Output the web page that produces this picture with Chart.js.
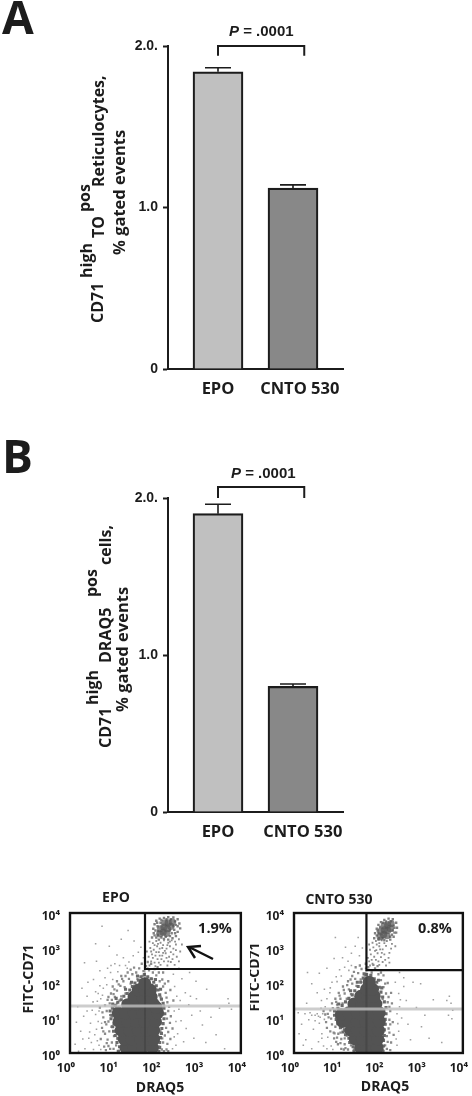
<!DOCTYPE html>
<html>
<head>
<meta charset="utf-8">
<title>CD71 reticulocytes, EPO vs CNTO 530</title>
<script src="https://cdn.jsdelivr.net/npm/chart.js@4/dist/chart.umd.min.js"></script>
<style>
  html, body { margin: 0; padding: 0; background: #fff; overflow: hidden; }
  #page { position: relative; width: 472px; height: 1096px; }
  canvas { position: absolute; filter: blur(0.4px); }
</style>
</head>
<body>
<div id="page">
  <canvas id="panelA" style="left:0;top:0"></canvas>
  <canvas id="panelB" style="left:0;top:430px"></canvas>
  <canvas id="flowEpo" style="left:0;top:880px"></canvas>
  <canvas id="flowCnto" style="left:250px;top:880px"></canvas>
</div>
<script>
// Bar data
const categories = ['EPO', 'CNTO 530'];
const barColors = ['#c0c0c0', '#888888'];
const barTickLabels = ['0', '1.0', '2.0.'];
const barTickValues = [0, 1, 2];
const valuesA = [1.84, 1.12];
const errorsA = [1.865, 1.14];
const valuesB = [1.90, 0.80];
const errorsB = [1.96, 0.815];

// Flow plots, points are log10 (DRAQ5, FITC-CD71)
const logTickValues = [1, 10, 100, 1000, 10000];
const logTickLabels = ['10⁰', '10¹', '10²', '10³', '10⁴'];

const epoCore = [
  [1.31,.15],[1.5,.15],[1.7,.15],[1.93,.15],
  [1.27,.4],[1.45,.4],[1.65,.4],[1.85,.4],[1.96,.4],
  [1.2,.65],[1.4,.65],[1.6,.65],[1.8,.65],[1.96,.65],
  [1.15,.9],[1.35,.9],[1.55,.9],[1.75,.9],[2.0,.9],
  [1.13,1.15],[1.3,1.15],[1.5,1.15],[1.7,1.15],[1.9,1.15],[2.05,1.15],
  [1.35,1.38],[1.55,1.4],[1.75,1.4],[1.95,1.4],[2.02,1.3],
  [1.5,1.6],[1.7,1.6],[1.9,1.6],
  [1.6,1.8],[1.75,1.8],[1.88,1.8],
  [1.75,1.98]
];
const epoInner = [
  [1.13,.05],[1.16,.18],[1.1,.3],[1.12,.42],[1.06,.5],[1.08,.62],[1.0,.75],[1.03,.84],[.96,.98],[.98,1.08],
  [.94,1.2],[1.0,1.28],[1.06,1.36],[1.12,1.45],[1.2,1.52],[1.26,1.62],[1.34,1.7],[1.4,1.8],[1.46,1.9],[1.52,2.0],
  [1.6,2.08],[1.66,2.18],[1.74,2.24],[1.82,2.18],[1.9,2.12],[1.96,2.02],[2.02,1.92],[2.06,1.8],[2.1,1.66],[2.14,1.54],
  [2.18,1.42],[2.2,1.28],[2.22,1.12],[2.2,.98],[2.18,.84],[2.15,.7],[2.14,.56],[2.12,.44],[2.1,.3],[2.1,.16],
  [2.08,.05],[1.24,.06],[1.02,.62],[1.0,1.4],[1.08,1.56],[1.3,1.82],[1.44,2.02],[1.58,2.2],[2.0,2.1],[2.12,1.82]
];
const epoHalo = [
  [.82,.55],[.9,.9],[.86,1.2],[.93,1.42],[.98,.3],[1.02,.12],[1.05,1.6],[1.1,1.78],[1.18,1.92],[1.25,2.05],
  [1.3,1.7],[1.38,2.12],[1.46,2.25],[1.55,2.3],[1.62,2.42],[1.7,2.2],[1.78,2.48],[1.85,2.36],[1.94,2.3],[2.02,2.22],
  [2.1,2.05],[2.18,1.9],[2.24,1.72],[2.28,1.45],[2.3,1.2],[2.27,.98],[2.25,.72],[2.22,.5],[2.18,.3],[2.15,.1],
  [2.2,.05],[.97,.75],[1.0,1.05],[1.03,.48],[.94,1.08],[1.08,.22],[1.12,.4],[1.15,.06],[1.2,1.62],[1.28,1.88],
  [1.42,1.98],[2.12,1.6],[2.2,1.35],[2.12,.62],[2.14,.85],[2.08,.18],[1.72,2.34],[1.58,2.12],[1.92,2.12],[.78,1.02],
  [.75,.72],[.88,.38],[.7,1.3],[.72,.4],[.8,.18],[.9,1.6],[1.0,1.9],[1.1,2.05],[1.2,2.2],[1.35,2.3],
  [2.36,1.05],[2.4,.7],[2.35,.4],[2.42,1.5],[2.35,1.8],[2.3,2.05],[2.18,2.3],[2.05,2.45],[1.9,2.55],[1.68,2.55],
  [1.05,.85],[.98,1.3],[1.04,1.35],[.92,.62],[.85,.82],[1.07,.65],[1.1,1.42],[1.16,1.5],[2.18,1.1],[2.16,.42],
  [.84,.08],[.9,.2],[.78,.62],[.82,.88],[.76,1.16],[.82,1.36],[.88,1.52],[.96,1.7],[1.04,1.82],[1.14,1.96],
  [1.22,2.12],[1.3,2.2],[1.42,2.38],[1.5,2.44],[2.26,1.58],[2.32,1.32],[2.34,.86],[2.3,.6],[2.28,.26],[2.26,.1],
  [2.16,2.1],[2.08,2.3],[1.98,2.4],[1.82,2.6],[2.22,1.98],[2.3,.05],[.94,.12],[.86,.28],[.98,1.52],[1.02,1.68]
];
const epoSparse = [
  [.12,.25],[.18,1.32],[.25,.62],[.32,1.05],[.35,.12],[.4,1.62],[.44,.42],[.48,.85],[.52,1.22],[.55,.1],
  [.6,1.75],[.62,.68],[.64,1.48],[.68,.22],[.7,1.92],[.55,2.1],[.42,2.02],[.28,1.85],[.76,1.65],[.82,2.15],
  [.95,2.3],[.88,2.42],[1.05,2.55],[1.12,2.32],[.7,2.35],[.62,2.62],[.34,2.58],[.6,3.12],[.92,3.05],[1.1,2.8],
  [1.25,2.72],[1.38,2.6],[1.48,2.78],[1.6,2.88],[1.72,2.72],[1.66,3.02],[1.5,3.2],[1.36,3.5],[.75,3.62],[1.2,3.25],
  [2.45,1.9],[2.5,1.62],[2.55,1.25],[2.6,.92],[2.52,.55],[2.48,.22],[2.62,2.12],[2.7,1.72],[2.78,1.38],[2.85,1.08],
  [2.72,.7],[2.9,.42],[2.96,1.55],[3.05,1.2],[3.1,.8],[3.18,.3],[2.42,2.25],[2.55,2.42],[3.2,1.82],[3.3,1.02],
  [3.42,.52],[3.5,1.28],[3.72,1.42],[3.78,1.25],[3.7,1.55],[3.62,.12],[2.95,2.05],[2.8,2.3],
  [.2,.05],[.5,.3],[.58,.52],[.66,.9],[.6,1.1],[.68,1.2],[.72,1.55],[.66,1.7],[.78,1.85],[.86,1.95],
  [1.0,2.1],[.96,2.5],[1.16,2.5],[1.3,2.5],[1.34,2.42],[2.44,1.2],[2.48,.9],[2.44,.46],[2.58,1.5],[2.4,.12],
  [.4,1.2],[.3,.4],[.15,.88],[2.66,.32],[2.82,1.62],[.72,.1],[.64,.35],[.74,.85],[.54,1.46],[.46,.6]
];
const epoTail = [
  [1.82,2.42],[1.9,2.62],[1.98,2.58],[2.05,2.68],[2.12,2.52],[2.2,2.62],[2.28,2.5],[2.36,2.6],[2.45,2.52],[2.55,2.62],
  [1.84,2.75],[1.92,2.82],[2.0,2.78],[2.08,2.88],[2.16,2.78],[2.24,2.85],[2.32,2.75],[2.42,2.82],[2.5,2.75],[2.58,2.9],
  [1.88,3.0],[1.96,2.95],[2.04,3.05],[2.1,2.98],[2.18,3.08],[2.26,2.98],[2.34,3.05],[2.42,2.98],[2.48,3.1],[1.86,3.18],
  [1.94,3.14],[2.02,3.2],[2.12,3.15],[2.2,3.22],[2.3,3.15],[2.38,3.22],[2.46,3.18],[2.55,3.25],[2.62,3.1],[1.8,2.9],
  [1.86,2.5],[1.94,2.72],[2.02,2.88],[2.06,3.12],[2.14,2.68],[2.22,2.92],[2.28,3.08],[2.36,2.88],[2.4,2.68],[2.16,3.0],
  [1.9,2.9],[1.98,3.08],[2.26,2.72],[2.1,2.78],[2.3,2.62],[2.48,2.94],[2.0,2.48],[2.08,2.58],[2.34,3.18],[2.18,2.86]
];
const epoCluster = [
  [2.1,3.4],[2.18,3.45],[2.26,3.42],[2.12,3.55],[2.2,3.6],[2.28,3.55],[2.36,3.62],[2.22,3.72],[2.3,3.72],[2.4,3.74]
];
const epoClusterHalo = [
  [1.92,3.3],[1.96,3.42],[1.95,3.55],[1.98,3.68],[2.02,3.78],[2.1,3.84],[2.2,3.86],[2.3,3.88],[2.42,3.87],[2.52,3.82],
  [2.56,3.7],[2.58,3.56],[2.52,3.46],[2.48,3.34],[2.4,3.28],[2.3,3.24],[2.2,3.26],[2.08,3.24],[2.02,3.3],[2.44,3.52],
  [2.05,3.62],[2.06,3.48],[2.12,3.72],[2.38,3.42],[2.48,3.66],[1.98,3.36],[2.0,3.5],[2.04,3.72],[2.14,3.8],[2.26,3.82],
  [2.36,3.82],[2.46,3.76],[2.52,3.62],[2.46,3.42],[2.34,3.34],[2.24,3.32],[2.14,3.3],[2.06,3.38],[2.42,3.62],[2.34,3.5]
];

const cntoCore = [
  [1.58,.15],[1.72,.15],[1.9,.15],[1.97,.15],
  [1.45,.4],[1.62,.4],[1.8,.4],[1.98,.4],
  [1.35,.65],[1.5,.65],[1.7,.65],[1.88,.65],[2.0,.65],
  [1.15,.9],[1.3,.9],[1.5,.9],[1.7,.9],[1.9,.9],[2.02,.9],
  [1.12,1.1],[1.3,1.15],[1.5,1.15],[1.7,1.15],[1.9,1.15],[2.02,1.15],
  [1.42,1.4],[1.6,1.4],[1.78,1.4],[1.94,1.4],
  [1.58,1.62],[1.74,1.62],[1.9,1.62],
  [1.72,1.82],[1.86,1.82],
  [1.78,2.02]
];
const cntoInner = [
  [1.42,.05],[1.4,.18],[1.32,.3],[1.3,.42],[1.22,.52],[1.2,.64],[1.1,.72],[1.04,.84],[1.0,.96],[.96,1.08],
  [.96,1.2],[1.04,1.28],[1.14,1.36],[1.22,1.46],[1.3,1.56],[1.38,1.66],[1.44,1.78],[1.52,1.9],[1.58,2.02],[1.64,2.14],
  [1.72,2.24],[1.82,2.22],[1.9,2.12],[1.96,2.02],[2.02,1.88],[2.06,1.74],[2.1,1.6],[2.14,1.46],[2.18,1.3],[2.18,1.12],
  [2.16,.96],[2.16,.82],[2.14,.66],[2.14,.5],[2.12,.36],[2.12,.2],[2.1,.06],[1.5,.05],[1.16,.6],[1.06,1.4],
  [1.34,1.78],[1.5,2.02],[1.66,2.26],[2.0,2.08],[2.08,1.86]
];
const cntoHalo = [
  [.8,1.12],[.88,.98],[.92,1.28],[.98,.75],[1.05,.55],[1.12,.4],[1.2,.25],[1.28,.1],[1.02,1.38],[1.1,1.55],
  [1.2,1.7],[1.3,1.82],[1.38,1.98],[1.45,2.12],[1.52,2.28],[1.6,2.4],[1.68,2.22],[1.76,2.45],[1.84,2.3],[1.92,2.42],
  [2.0,2.25],[2.06,2.08],[2.12,1.88],[2.18,1.7],[2.22,1.45],[2.28,1.2],[2.26,.95],[2.24,.7],[2.2,.48],[2.16,.22],
  [2.12,.05],[1.35,.22],[1.25,.5],[1.18,.68],[1.08,.85],[1.0,1.0],[1.15,1.42],[1.25,1.55],[1.35,1.68],[1.48,1.92],
  [1.58,2.1],[2.1,1.55],[2.14,1.25],[2.16,.82],[2.12,.38],[1.42,.1],[.7,1.2],[.76,.88],[.86,.62],[.95,.42],
  [1.04,.25],[1.12,.12],[.98,1.55],[1.06,1.72],[1.16,1.9],[1.28,2.05],[1.38,2.2],[2.34,.88],[2.36,.52],[2.32,1.42],
  [2.3,1.72],[2.22,2.0],[2.12,2.22],[1.98,2.48],[1.7,2.55],[1.46,2.45],[1.05,1.18],[.94,.58],[1.0,.32],[1.2,.42],
  [.86,1.22],[.82,1.02],[.74,1.1],[.9,.82],[.96,.56],[1.02,.44],[1.1,.28],[1.18,.1],[1.1,.58],[1.22,.14],
  [1.0,1.46],[1.08,1.64],[1.18,1.8],[1.26,1.94],[1.34,2.1],[1.42,2.32],[2.24,1.6],[2.26,1.32],[2.28,.82],[2.26,.58],
  [2.22,.32],[2.2,.12],[2.16,1.98],[2.06,2.3],[1.88,2.52],[1.56,2.5],[2.3,.3],[2.28,.08],[.9,1.42],[.78,.72]
];
const cntoSparse = [
  [.1,1.15],[.12,.55],[.18,.82],[.22,.22],[.28,.38],[.3,1.42],[.35,.95],[.38,1.15],[.42,.12],[.46,.68],
  [.5,1.08],[.55,1.12],[.58,.32],[.62,1.02],[.66,.55],[.7,.2],[.65,1.5],[.55,1.72],[.42,1.98],[.72,1.82],
  [.85,1.72],[.9,2.02],[1.0,2.18],[1.08,2.38],[1.2,2.45],[.78,2.42],[.6,2.28],[.32,2.3],[.95,2.7],[1.15,2.72],
  [1.28,2.62],[1.36,2.85],[1.22,3.02],[1.45,3.05],[1.55,2.78],[1.62,3.0],[1.52,3.3],[.98,3.3],[2.4,2.02],[2.48,1.7],
  [2.5,1.32],[2.55,1.0],[2.48,.62],[2.44,.22],[2.6,1.9],[2.66,1.5],[2.7,.82],[2.76,.38],[2.6,2.15],[2.9,1.3],
  [2.82,2.02],[3.0,1.98],[3.02,.75],[3.1,1.08],[3.2,.42],[2.5,2.3],[3.68,1.62],[3.72,1.42],[3.76,1.22],[3.66,1.08],
  [3.74,.98],[3.62,1.5],[3.5,.3],[3.3,1.52],
  [.6,.85],[.68,1.12],[.74,1.32],[.64,1.28],[.72,.96],[.8,.45],[.88,.2],[.78,.12],[.92,.1],[.66,.42],
  [.78,1.55],[.86,1.86],[1.02,2.04],[1.12,2.2],[1.3,2.36],[1.36,2.5],[2.44,1.12],[2.46,.84],[2.42,.4],[2.52,1.52],
  [.42,1.08],[.5,.92],[.26,1.12],[.58,1.05]
];
const cntoTail = [
  [1.7,2.42],[1.78,2.62],[1.86,2.55],[1.94,2.66],[2.02,2.52],[2.1,2.6],[2.18,2.5],[2.26,2.58],[1.75,2.72],[1.82,2.82],
  [1.9,2.75],[1.98,2.85],[2.06,2.74],[2.14,2.82],[2.24,2.72],[1.8,2.95],[1.88,3.02],[1.95,2.94],[2.02,3.05],[2.1,2.96],
  [2.18,3.06],[2.3,2.98],[1.86,3.15],[1.94,3.2],[2.02,3.14],[2.08,3.22],[2.2,3.2],[2.32,3.12],[2.4,3.05],[1.78,3.1],
  [1.84,2.66],[1.92,2.92],[2.0,2.62],[2.08,2.86],[1.96,3.1],[2.14,3.14],[1.8,2.5],[2.16,2.66],[2.26,2.86],[2.04,2.96]
];
const cntoCluster = [
  [2.04,3.32],[2.12,3.38],[2.2,3.35],[2.06,3.48],[2.14,3.52],[2.22,3.5],[2.28,3.56],[2.14,3.64],[2.22,3.66],[2.3,3.7]
];
const cntoClusterHalo = [
  [1.9,3.28],[1.92,3.42],[1.96,3.55],[2.0,3.66],[2.06,3.74],[2.14,3.8],[2.24,3.84],[2.34,3.82],[2.42,3.72],[2.44,3.58],
  [2.42,3.44],[2.36,3.32],[2.28,3.24],[2.14,3.22],[2.0,3.24],[1.96,3.36],[2.34,3.5],[2.36,3.64],[2.0,3.42],[2.32,3.38],
  [2.04,3.6],[2.1,3.72],[2.18,3.76],[2.3,3.76],[2.38,3.58],[2.38,3.44],[2.28,3.32],[2.1,3.28],[1.98,3.5],[2.02,3.28]
];

// Gates and reference lines, in axis units
const gateEpo = [[57, 10000], [57, 251], [10000, 251]];
const gateCnto = [[52, 10000], [52, 234], [10000, 234]];
const grayLineEpo = [[1, 22], [10000, 22]];
const grayLineCnto = [[1, 18], [10000, 18]];
const grayStemEpo = [[57, 1], [57, 251]];
const grayStemCnto = [[52, 1], [52, 234]];

const sansBold = 'bold %px "Open Sans"';
const font = (size, italic) => (italic ? 'italic ' : '') + sansBold.replace('%', size);
const INK = '#1c1c1c';

// Fixed text and small hand drawn bits on each panel
const textPlugin = {
  id: 'panelText',
  afterDraw(chart, args, opts) {
    const ctx = chart.ctx;
    (opts.items || []).forEach(t => {
      ctx.save();
      ctx.translate(t.x, t.y);
      if (t.up) ctx.rotate(-Math.PI / 2);
      ctx.font = t.font;
      ctx.fillStyle = INK;
      ctx.textAlign = t.align || 'left';
      ctx.textBaseline = 'alphabetic';
      ctx.fillText(t.text, 0, 0);
      ctx.restore();
    });
    if (opts.after) opts.after(ctx);
  }
};

// Error bars on top of the bars
const errorBarPlugin = {
  id: 'errorBars',
  afterDatasetsDraw(chart, args, opts) {
    if (!opts.tops) return;
    const ctx = chart.ctx;
    const { x, y } = chart.scales;
    ctx.save();
    ctx.strokeStyle = INK;
    ctx.lineWidth = 1.6;
    opts.tops.forEach((top, i) => {
      const px = x.getPixelForValue(i);
      ctx.beginPath();
      ctx.moveTo(px, y.getPixelForValue(opts.values[i]));
      ctx.lineTo(px, y.getPixelForValue(top));
      ctx.moveTo(px - 13, y.getPixelForValue(top));
      ctx.lineTo(px + 13, y.getPixelForValue(top));
      ctx.stroke();
    });
    ctx.restore();
  }
};

const framePlugin = {
  id: 'frame',
  afterDatasetsDraw(chart, args, opts) {
    if (!opts.show) return;
    const { left, top, width, height } = chart.chartArea;
    chart.ctx.save();
    chart.ctx.strokeStyle = '#111';
    chart.ctx.lineWidth = 2.4;
    chart.ctx.strokeRect(left, top, width, height);
    chart.ctx.restore();
  }
};

Chart.register(textPlugin, errorBarPlugin, framePlugin);

function barPanel(id, height, cfg) {
  const canvas = document.getElementById(id);
  canvas.width = 472;
  canvas.height = height;
  return new Chart(canvas, {
    data: {
      datasets: [
        {
          type: 'bar',
          data: cfg.values.map((v, i) => ({ x: i, y: v })),
          backgroundColor: barColors,
          borderColor: INK,
          borderWidth: 2.2,
          borderSkipped: 'bottom',
          barThickness: 50,
          order: 2
        },
        {
          type: 'line',
          data: cfg.bracket,
          borderColor: INK,
          borderWidth: 2,
          pointRadius: 0,
          tension: 0,
          clip: false,
          order: 1
        }
      ]
    },
    options: {
      responsive: false,
      animation: false,
      layout: { autoPadding: false, padding: cfg.padding },
      plugins: {
        legend: { display: false },
        tooltip: { enabled: false },
        errorBars: { values: cfg.values, tops: cfg.errors },
        panelText: { items: cfg.text }
      },
      scales: {
        x: {
          type: 'linear',
          offset: false,
          min: -50 / 75,
          max: 1 + 50 / 75,
          grid: { display: false },
          border: { color: INK, width: 2 },
          afterBuildTicks: s => { s.ticks = cfg.labelAt.map(v => ({ value: v })); },
          afterFit: s => { s.height = 40; },
          ticks: {
            autoSkip: false,
            maxRotation: 0,
            padding: 2,
            color: INK,
            font: { family: 'Open Sans', weight: 'bold', size: 16.5 },
            callback: (v, i) => categories[i]
          }
        },
        y: {
          type: 'linear',
          min: 0,
          max: 2,
          grid: { drawOnChartArea: false, tickLength: 5, tickColor: INK, tickWidth: 2 },
          border: { color: INK, width: 2 },
          afterBuildTicks: s => { s.ticks = barTickValues.map(v => ({ value: v })); },
          afterFit: s => { s.width = 60; },
          ticks: {
            padding: 5,
            color: INK,
            font: { family: 'Liberation Sans', weight: 'bold', size: 14 },
            callback: (v, i) => barTickLabels[i]
          }
        }
      }
    }
  });
}

function fromLog(points) {
  return points.map(([x, y]) => ({ x: 10 ** x, y: 10 ** y }));
}
function fromPairs(points) {
  return points.map(([x, y]) => ({ x, y }));
}
function dotSet(points, radius, color, order, style) {
  return { type: 'scatter', data: fromLog(points), pointRadius: radius, pointStyle: style || 'rect', pointBackgroundColor: color, pointBorderWidth: 0, order };
}
function lineSet(points, color, width, order) {
  return { type: 'line', data: fromPairs(points), borderColor: color, borderWidth: width, pointRadius: 0, tension: 0, order };
}

function flowPanel(id, width, cfg) {
  const canvas = document.getElementById(id);
  canvas.width = width;
  canvas.height = 216;
  return new Chart(canvas, {
    data: {
      datasets: [
        dotSet(cfg.sparse, 1.1, '#a0a0a0', 9),
        dotSet(cfg.tail, 1.3, '#8e8e8e', 8),
        dotSet(cfg.halo, 1.6, '#8a8a8a', 7),
        dotSet(cfg.clusterHalo, 1.7, '#808080', 6),
        dotSet(cfg.cluster, 3.6, 'rgba(85,85,85,0.7)', 5, 'circle'),
        dotSet(cfg.inner, 2.2, '#6a6a6a', 4),
        dotSet(cfg.core, 6.5, '#535353', 3, 'circle'),
        lineSet(cfg.stem, 'rgba(40,40,40,0.25)', 2, 2.5),
        lineSet(cfg.grayLine, 'rgba(192,192,192,0.8)', 3, 2),
        lineSet(cfg.gate, '#111', 2.2, 1)
      ]
    },
    options: {
      responsive: false,
      animation: false,
      layout: { autoPadding: false, padding: cfg.padding },
      plugins: {
        legend: { display: false },
        tooltip: { enabled: false },
        frame: { show: true },
        panelText: { items: cfg.text, after: cfg.after }
      },
      scales: {
        x: {
          type: 'logarithmic',
          min: 1,
          max: 10000,
          grid: { display: false },
          border: { display: false },
          afterBuildTicks: s => { s.ticks = logTickValues.map(v => ({ value: v })); },
          afterFit: s => { s.height = 30; },
          ticks: {
            autoSkip: false,
            maxRotation: 0,
            padding: 0,
            labelOffset: cfg.xLabelOffset,
            color: INK,
            font: { family: 'Noto Sans', weight: 'bold', size: 12 },
            callback: (v, i) => logTickLabels[i]
          }
        },
        y: {
          type: 'logarithmic',
          min: 1,
          max: 10000,
          grid: { display: false },
          border: { display: false },
          afterBuildTicks: s => { s.ticks = logTickValues.map(v => ({ value: v })); },
          afterFit: s => { s.width = 30; },
          ticks: {
            autoSkip: false,
            padding: 2,
            labelOffset: 4,
            color: INK,
            font: { family: 'Noto Sans', weight: 'bold', size: 12 },
            callback: (v, i) => logTickLabels[i]
          }
        }
      }
    }
  });
}

const pFont = '15px "Liberation Sans"';

barPanel('panelA', 430, {
  values: valuesA,
  errors: errorsA,
  labelAt: [0, 1.09],
  bracket: [{ x: 0, y: 1.94 }, { x: 0, y: 2 }, { x: 1.15, y: 2 }, { x: 1.15, y: 1.94 }],
  padding: { left: 108, right: 129, top: 46, bottom: 21 },
  text: [
    { text: 'A', x: 2, y: 34, font: font(46) },
    { text: 'P', x: 229, y: 36, font: 'italic bold ' + pFont },
    { text: ' = .0001', x: 239, y: 36, font: 'bold ' + pFont },
    { text: 'CD71', x: 103, y: 323, up: true, font: font(16) },
    { text: 'high', x: 92, y: 278, up: true, font: font(16) },
    { text: 'TO', x: 104, y: 238, up: true, font: font(16) },
    { text: 'pos', x: 90, y: 212, up: true, font: font(16) },
    { text: 'Reticulocytes,', x: 104, y: 187, up: true, font: font(16) },
    { text: '% gated events', x: 125, y: 255, up: true, font: font(16.5) }
  ]
});

barPanel('panelB', 430, {
  values: valuesB,
  errors: errorsB,
  labelAt: [0, 1.13],
  bracket: [{ x: 0, y: 2 }, { x: 0, y: 2.07 }, { x: 1.15, y: 2.07 }, { x: 1.15, y: 2 }],
  padding: { left: 108, right: 129, top: 68, bottom: 8 },
  text: [
    { text: 'B', x: 2, y: 43, font: font(46) },
    { text: 'P', x: 231, y: 48, font: 'italic bold ' + pFont },
    { text: ' = .0001', x: 241, y: 48, font: 'bold ' + pFont },
    { text: 'CD71', x: 111, y: 318, up: true, font: font(16) },
    { text: 'high', x: 98, y: 275, up: true, font: font(16) },
    { text: 'DRAQ5', x: 111, y: 233, up: true, font: font(16) },
    { text: 'pos', x: 97, y: 167, up: true, font: font(16) },
    { text: 'cells,', x: 111, y: 135, up: true, font: font(16) },
    { text: '% gated events', x: 128, y: 282, up: true, font: font(16.5) }
  ]
});

flowPanel('flowEpo', 250, {
  core: epoCore,
  inner: epoInner,
  halo: epoHalo,
  sparse: epoSparse,
  tail: epoTail,
  cluster: epoCluster,
  clusterHalo: epoClusterHalo,
  gate: gateEpo,
  grayLine: grayLineEpo,
  stem: grayStemEpo,
  padding: { left: 40, right: 9, top: 33, bottom: 13 },
  xLabelOffset: -4,
  text: [
    { text: 'EPO', x: 116, y: 22, align: 'center', font: font(14) },
    { text: '1.9%', x: 215, y: 53, align: 'center', font: font(14.5) },
    { text: 'DRAQ5', x: 160, y: 212, align: 'center', font: font(14) },
    { text: 'FITC-CD71', x: 33, y: 99, up: true, align: 'center', font: font(14) }
  ],
  // arrow pointing at the gated population
  after(ctx) {
    ctx.save();
    ctx.strokeStyle = '#111';
    ctx.lineWidth = 2.4;
    ctx.beginPath();
    ctx.moveTo(213, 79);
    ctx.lineTo(189, 67);
    ctx.moveTo(201, 66);
    ctx.lineTo(188, 67);
    ctx.lineTo(195, 78);
    ctx.stroke();
    ctx.restore();
  }
});

flowPanel('flowCnto', 222, {
  core: cntoCore,
  inner: cntoInner,
  halo: cntoHalo,
  sparse: cntoSparse,
  tail: cntoTail,
  cluster: cntoCluster,
  clusterHalo: cntoClusterHalo,
  gate: gateCnto,
  grayLine: grayLineCnto,
  stem: grayStemCnto,
  padding: { left: 14, right: 8, top: 33, bottom: 13 },
  xLabelOffset: -4,
  text: [
    { text: 'CNTO 530', x: 89, y: 24, align: 'center', font: font(14) },
    { text: '0.8%', x: 185, y: 53, align: 'center', font: font(14.5) },
    { text: 'DRAQ5', x: 135, y: 211, align: 'center', font: font(14) },
    { text: 'FITC-CD71', x: 9, y: 97, up: true, align: 'center', font: font(14) }
  ]
});
</script>
</body>
</html>
